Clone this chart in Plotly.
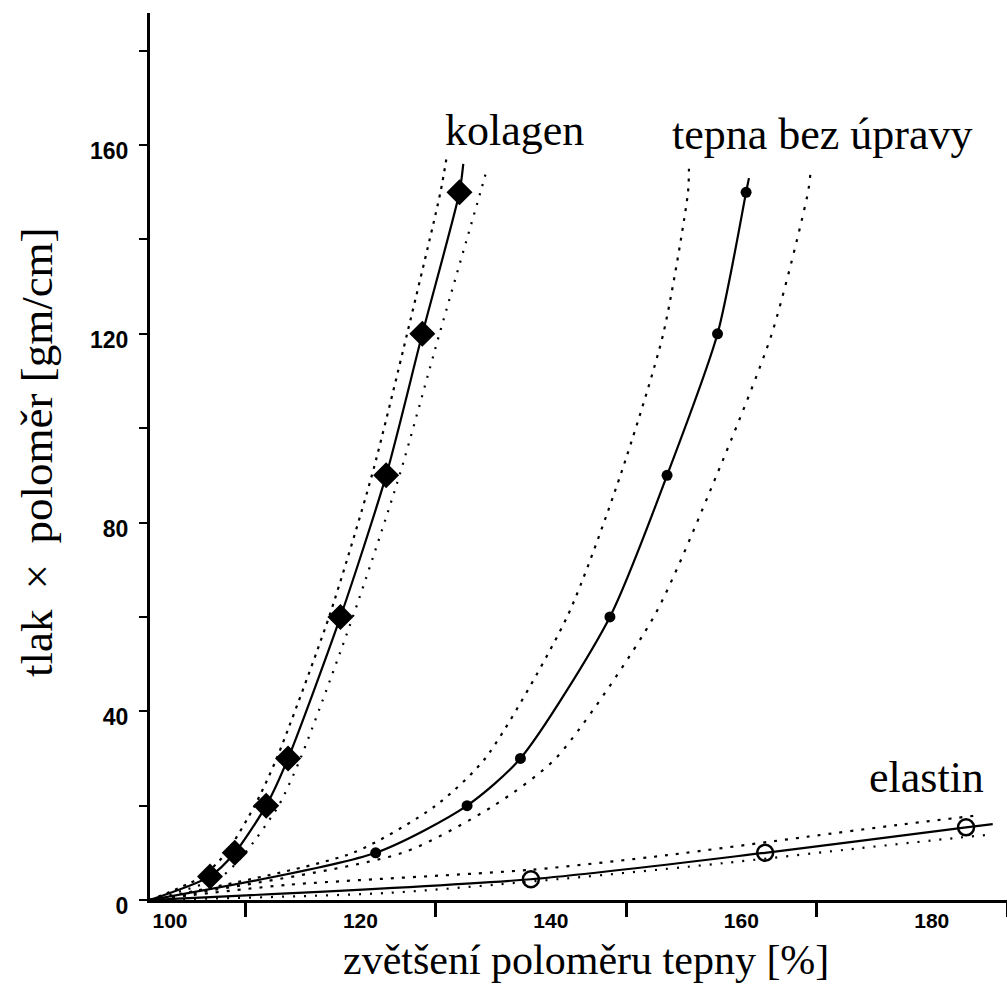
import plotly.graph_objects as go

# ---- data ----
kolagen_x = [100, 106.3, 108.9, 112.2, 114.5, 120.0, 124.8, 128.6, 132.5]
kolagen_y = [0, 5, 10, 20, 30, 60, 90, 120, 150]
kolagen_line_x = [100, 106.3, 108.9, 112.2, 114.5, 120.0, 124.8, 128.6, 132.5, 132.9]
kolagen_line_y = [0, 5, 10, 20, 30, 60, 90, 120, 150, 156]
kolagen_lo_x = [100, 105.5, 108.0, 111.0, 113.3, 118.8, 123.3, 127.0, 130.5, 131.2]
kolagen_lo_y = [0, 5, 10, 20, 30, 60, 90, 120, 150, 158]
kolagen_hi_x = [100, 107.5, 110.0, 113.5, 115.8, 121.3, 126.2, 130.4, 134.7, 135.4]
kolagen_hi_y = [0, 5, 10, 20, 30, 60, 90, 120, 150, 155]

tepna_x = [100, 123.7, 133.3, 138.9, 148.3, 154.3, 159.6, 162.6]
tepna_y = [0, 10, 20, 30, 60, 90, 120, 150]
tepna_line_x = [100, 123.7, 133.3, 138.9, 148.3, 154.3, 159.6, 162.6, 162.9]
tepna_line_y = [0, 10, 20, 30, 60, 90, 120, 150, 153]
tepna_lo_x = [100, 121.3, 130.0, 135.2, 143.8, 149.4, 153.9, 156.5, 156.6]
tepna_lo_y = [0, 10, 20, 30, 60, 90, 120, 150, 155]
tepna_hi_x = [100, 126.5, 136.1, 142.6, 152.9, 159.5, 165.3, 169.1, 169.4]
tepna_hi_y = [0, 10, 20, 30, 60, 90, 120, 150, 155]

elastin_x = [140.0, 164.6, 185.7]
elastin_y = [4.4, 10.0, 15.4]
elastin_line_x = [100, 140.0, 164.6, 185.7, 188.5]
elastin_line_y = [0, 4.4, 10.0, 15.4, 16.1]
elastin_hi_x = [100, 114.4, 140.0, 154.3, 169.0, 178.5, 187.2]
elastin_hi_y = [0, 3.2, 6.4, 9.5, 13.4, 15.9, 18.0]
elastin_lo_x = [100, 125.0, 143.8, 160.2, 172.8, 184.4, 188.0]
elastin_lo_y = [0, 1.5, 4.6, 7.8, 10.6, 13.1, 13.8]

x_tickvals = [100, 120, 140, 160, 180]
x_ticktext = ["100", "120", "140", "160", "180"]
x_minor = [110, 130, 150, 170, 190]
y_tickvals = [0, 40, 80, 120, 160]
y_ticktext = ["0", "40", "80", "120", "160"]
y_minor = [20, 60, 100, 140, 180]

labels = ["kolagen", "tepna bez úpravy", "elastin"]
label_x = [138.3, 170.6, 181.5]
label_y = [163.0, 162.3, 25.9]

x_title = "zvětšení poloměru tepny [%]"
y_title = "tlak \u2009×\u2009 poloměr [gm/cm]"

fig = go.Figure()

def dotted(x, y, dash):
    fig.add_trace(go.Scatter(x=x, y=y, mode="lines",
                             line=dict(color="black", width=2.2, dash=dash, shape="spline", smoothing=0.7),
                             hoverinfo="skip", showlegend=False))

def solid(x, y):
    fig.add_trace(go.Scatter(x=x, y=y, mode="lines",
                             line=dict(color="black", width=2.2, shape="spline", smoothing=0.7),
                             hoverinfo="skip", showlegend=False))

dotted(kolagen_lo_x, kolagen_lo_y, "3px,6px")
dotted(kolagen_hi_x, kolagen_hi_y, "2px,8px")
dotted(tepna_lo_x, tepna_lo_y, "3px,7px")
dotted(tepna_hi_x, tepna_hi_y, "3px,8px")
dotted(elastin_hi_x, elastin_hi_y, "3px,8px")
dotted(elastin_lo_x, elastin_lo_y, "2px,9px")

solid(kolagen_line_x, kolagen_line_y)
solid(tepna_line_x, tepna_line_y)
solid(elastin_line_x, elastin_line_y)

fig.add_trace(go.Scatter(x=kolagen_x[1:], y=kolagen_y[1:], mode="markers",
                         marker=dict(symbol="diamond", size=20, color="black"),
                         showlegend=False))
fig.add_trace(go.Scatter(x=tepna_x[1:], y=tepna_y[1:], mode="markers",
                         marker=dict(symbol="circle", size=11, color="black"),
                         showlegend=False))
fig.add_trace(go.Scatter(x=elastin_x, y=elastin_y, mode="markers",
                         marker=dict(symbol="circle-open", size=16, color="black",
                                     line=dict(width=2.5, color="black")),
                         showlegend=False))

serif = "Liberation Serif"
for t, lx, ly in zip(labels, label_x, label_y):
    fig.add_annotation(x=lx, y=ly, xref="x", yref="y", text=t, showarrow=False,
                       font=dict(family=serif, size=44, color="black"))

fig.add_annotation(x=0.509, y=-0.0947, xref="paper", yref="paper", text=x_title,
                   xanchor="center", yanchor="bottom", borderpad=0,
                   showarrow=False, font=dict(family=serif, size=42, color="black"))
fig.add_annotation(x=-0.132, y=0.505, xref="paper", yref="paper", text=y_title,
                   xanchor="center", yanchor="middle",
                   textangle=-90, showarrow=False, font=dict(family=serif, size=45, color="black"))

tickfont = dict(family="Liberation Sans", size=21, color="black", weight="bold")

fig.update_xaxes(range=[100, 190], showgrid=False, zeroline=False, showline=True,
                 linecolor="black", linewidth=2.5,
                 tickmode="array", tickvals=x_tickvals, ticktext=x_ticktext, ticks="",
                 tickfont=tickfont, ticklabelshift=20, ticklabelstandoff=0,
                 minor=dict(tickmode="array", tickvals=x_minor, ticks="outside",
                            ticklen=14, tickwidth=2.5, tickcolor="black", showgrid=False))
fig.update_yaxes(range=[0, 188], showgrid=False, zeroline=False, showline=True,
                 linecolor="black", linewidth=3,
                 tickmode="array", tickvals=y_tickvals, ticktext=y_ticktext, ticks="outside",
                 ticklen=8, tickwidth=2, tickcolor="black",
                 tickfont=dict(family="Liberation Sans", size=23, color="black", weight="bold"),
                 ticklabelshift=6, ticklabelstandoff=6,
                 minor=dict(tickmode="array", tickvals=y_minor, ticks="outside",
                            ticklen=8, tickwidth=2, tickcolor="black", showgrid=False))

fig.update_layout(width=1007, height=984, margin=dict(l=150, r=0, t=13, b=84),
                  plot_bgcolor="white", paper_bgcolor="white", showlegend=False)

fig.write_html("out.html")
